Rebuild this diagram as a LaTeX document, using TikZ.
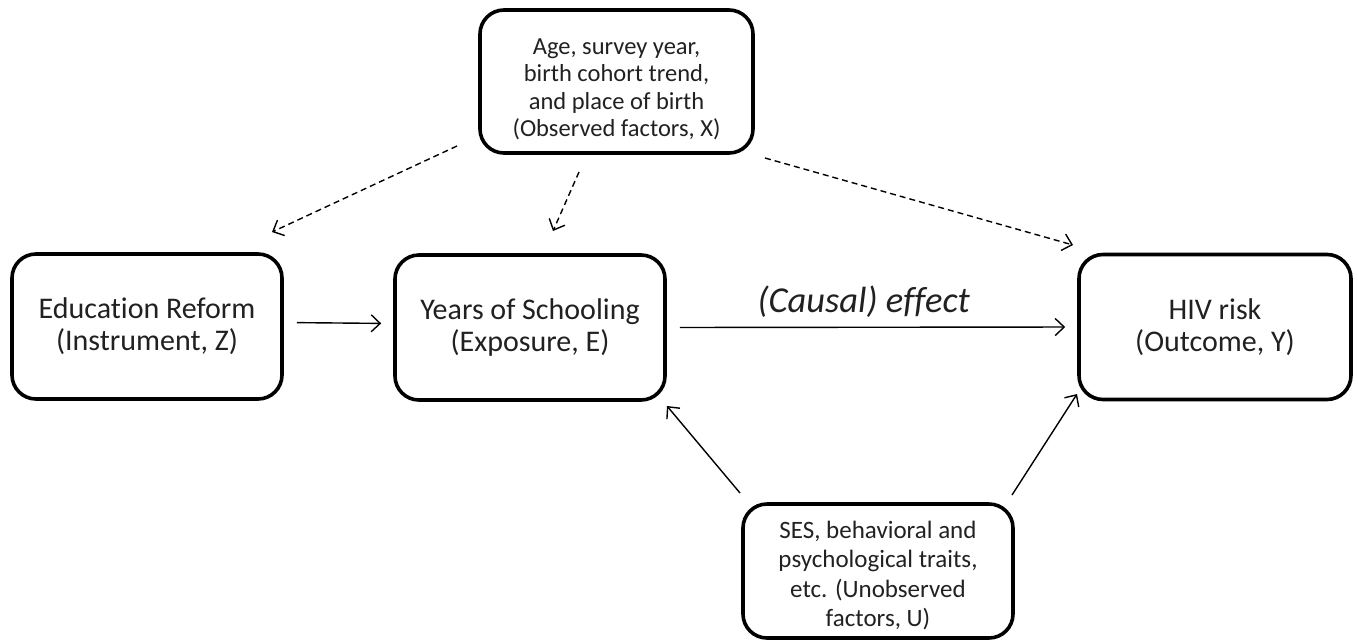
\documentclass[tikz,border=0pt]{standalone}
\usepackage{fontspec}
\setmainfont{Carlito}[Ligatures=NoCommon]
\usetikzlibrary{arrows.meta}
\definecolor{txt}{gray}{0.13}
\tikzset{
  box/.style={draw=black, line width=3.6pt, rounded corners=24pt, align=center, text=txt, inner sep=0pt},
  mainbox/.style={box, minimum width=270pt, minimum height=145pt, font=\fontsize{30}{32}\selectfont},
  conn/.style={line width=1.4pt, -{Straight Barb[length=9pt,width=17pt,line width=1.4pt]}},
  dconn/.style={conn, dash pattern=on 6pt off 4pt},
}
\begin{document}
\begin{tikzpicture}[x=1pt,y=-1pt]
\useasboundingbox (0,0) rectangle (1358,641);
\node[mainbox] (Z) at (147,326.5) {Education Reform\\(Instrument, Z)};
\node[mainbox] (E) at (530,327.5) {Years of Schooling\\(Exposure, E)};
\node[mainbox, minimum width=272pt] (Y) at (1215,327) {HIV risk\\(Outcome, Y)};
\node[box, minimum width=273pt, minimum height=143pt, font=\fontsize{24.5}{27.5}\selectfont] (X) at (616.5,81.5) {\rule{0pt}{31pt}Age, survey year,\\birth cohort trend,\\and place of birth\\(Observed factors, X)};
\node[box, minimum width=270pt, minimum height=134pt, font=\fontsize{25}{29.5}\selectfont] (U) at (878,571) {\rule{0pt}{26pt}SES, behavioral and\\psychological traits,\\etc. (Unobserved\\factors, U)};
% free ends
\coordinate (x1) at (457,146);
\coordinate (z1) at (272,232);
\coordinate (x2) at (579,172);
\coordinate (e1) at (553,231);
\coordinate (x3) at (765,158);
\coordinate (y1) at (1073,245);
\coordinate (u1) at (740,493);
\coordinate (e2) at (667,406);
\coordinate (u2) at (1012,495);
\coordinate (y2) at (1077,394);
\draw[conn, shorten <=13pt, shorten >=12pt] ([yshift=4pt]Z.east) -- ([yshift=4pt]E.west);
\draw[conn, shorten <=13pt, shorten >=12pt] (E.east) -- node[pos=0.48, above=6pt, font=\fontsize{36.5}{40}\itshape, text=txt] (lab) {(Causal) effect} (Y.west);
\draw[dconn] (x1) -- (z1);
\draw[dconn] (x2) -- (e1);
\draw[dconn] (x3) -- (y1);
\draw[conn] (u1) -- (e2);
\draw[conn] (u2) -- (y2);
\end{tikzpicture}
\end{document}
